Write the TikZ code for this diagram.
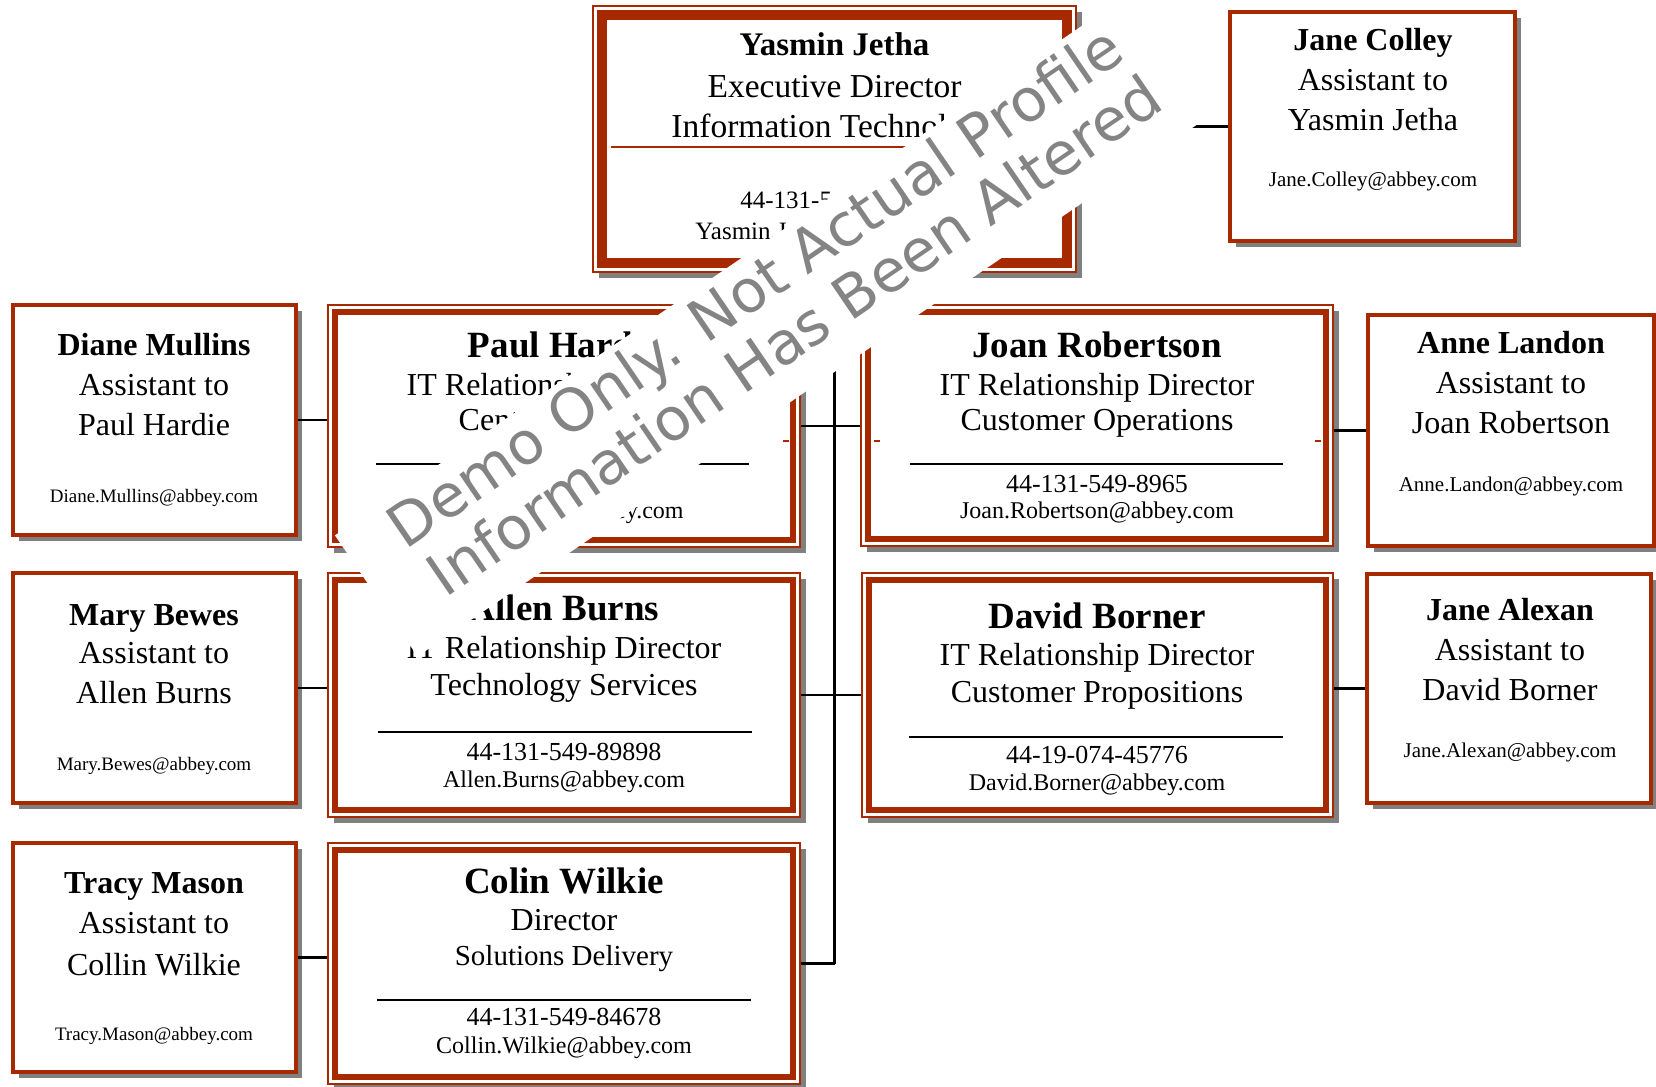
\documentclass[tikz,border=0pt]{standalone}
\usepackage{fontspec}
\setmainfont{Liberation Serif}
\newfontfamily\wmfont{DejaVu Sans}
\usetikzlibrary{fit,calc}
\definecolor{boxred}{RGB}{166,41,0}
\definecolor{shadowgrey}{RGB}{128,128,128}
\definecolor{wmgrey}{RGB}{132,132,132}
\tikzset{
  outerframe/.style={draw=boxred, line width=0.75pt, fill=white, inner sep=0pt},
  asframe/.style={draw=boxred, line width=1.6pt, fill=white, inner sep=0pt},
  txt/.style={anchor=base, inner sep=0pt, text=black},
  dname/.style={txt, font=\fontsize{18.5}{20}\selectfont\bfseries},
  dtitle/.style={txt, font=\fontsize{16}{18}\selectfont},
  dtitlesm/.style={txt, font=\fontsize{14.5}{16}\selectfont},
  dphone/.style={txt, font=\fontsize{13}{15}\selectfont},
  demail/.style={txt, font=\fontsize{12}{14}\selectfont},
  yname/.style={txt, font=\fontsize{16.5}{18}\selectfont\bfseries},
  ytitle/.style={txt, font=\fontsize{16.75}{18}\selectfont},
  yphone/.style={txt, font=\fontsize{12.5}{14}\selectfont},
  aname/.style={txt, font=\fontsize{16}{18}\selectfont\bfseries},
  atitle/.style={txt, font=\fontsize{16}{18}\selectfont},
  aemailL/.style={txt, font=\fontsize{9.5}{11}\selectfont},
  aemailR/.style={txt, font=\fontsize{10.5}{12}\selectfont},
  conn/.style={draw=black, line width=1.15pt},
  sepline/.style={draw=black, line width=0.7pt},
  wm/.style={anchor=base, inner sep=0pt, text=wmgrey, font=\wmfont\fontsize{29.5}{30}\selectfont},
}
\newcommand\dirbox[7]{%
  \fill[shadowgrey] (#2+6,#3+6) rectangle (#4+6,#5+6);
  \node[outerframe, fit={(#2,#3)(#4,#5)}] (#1) {};
  \draw[boxred, line width=#7] (#2+#6,#3+#6) rectangle (#4-#6,#5-#6);
}
\newcommand\asbox[5]{%
  \fill[shadowgrey] (#2+6,#3+6) rectangle (#4+6,#5+6);
  \node[asframe, fit={(#2,#3)(#4,#5)}] (#1) {};
}
\begin{document}
\begin{tikzpicture}[x=0.5pt,y=-0.5pt]
\useasboundingbox (0,0) rectangle (1656,1087);
\fill[white] (0,0) rectangle (1656,1087);

% boxes
\dirbox{yasmin}{593}{6}{1076}{272}{9}{5pt}
\asbox{janec}{1230}{12}{1515}{241}
\asbox{diane}{13}{305}{296}{535}
\dirbox{paul}{328}{305}{800}{547}{7}{2.8pt}
\dirbox{joan}{861}{305}{1333}{546}{7}{2.8pt}
\asbox{anne}{1368}{315}{1654}{546}
\asbox{mary}{13}{573}{296}{803}
\dirbox{allen}{328}{573}{800}{817}{7}{2.8pt}
\dirbox{david}{862}{573}{1333}{817}{7}{2.8pt}
\asbox{janea}{1367}{574}{1651}{803}
\asbox{tracy}{13}{843}{296}{1072}
\dirbox{colin}{328}{843}{800}{1084}{7}{2.8pt}

% connectors
\draw[conn] (yasmin.east |- janec.west) -- (janec.west);
\draw[conn] (yasmin.south) -- (yasmin.south |- colin.east);
\draw[conn] (paul.east) -- (paul.east -| joan.west);
\draw[conn] (allen.east) -- (allen.east -| david.west);
\draw[conn] (colin.east) -- (colin.east -| yasmin.south);
\draw[conn] (diane.east) -- (diane.east -| paul.west);
\draw[conn] (mary.east) -- (mary.east -| allen.west);
\draw[conn] (tracy.east) -- (tracy.east -| colin.west);
\draw[conn] (joan.east |- anne.west) -- (anne.west);
\draw[conn] (david.east |- janea.west) -- (janea.west);

% Yasmin
\node[yname] (yn) at (834.5,55) {Yasmin Jetha};
\node[ytitle] (yt1) at (834.5,97) {Executive Director};
\node[ytitle] (yt2) at (834.5,137) {Information Technology};
\draw[boxred, line width=0.75pt] (611,147) -- (1058,147);
\node[yphone, anchor=base west] (yp) at (740,208) {44-131-549-};
\node[yphone, anchor=base west] (ye) at (695,239) {Yasmin.Jetha@abbey.com};

% Jane Colley
\node[aname] (jcn) at (1373,50) {Jane Colley};
\node[atitle] (jct1) at (1373,90) {Assistant to};
\node[atitle] (jct2) at (1373,130) {Yasmin Jetha};
\node[aemailR] (jce) at (1373,186) {Jane.Colley@abbey.com};

% Diane
\node[aname] (dmn) at (154,355) {Diane Mullins};
\node[atitle] (dmt1) at (154,395) {Assistant to};
\node[atitle] (dmt2) at (154,435) {Paul Hardie};
\node[aemailL] (dme) at (154,502) {Diane.Mullins@abbey.com};

% Mary
\node[aname] (mbn) at (154,625) {Mary Bewes};
\node[atitle] (mbt1) at (154,663) {Assistant to};
\node[atitle] (mbt2) at (154,703) {Allen Burns};
\node[aemailL] (mbe) at (154,770) {Mary.Bewes@abbey.com};

% Tracy
\node[aname] (tmn) at (154,893) {Tracy Mason};
\node[atitle] (tmt1) at (154,933) {Assistant to};
\node[atitle] (tmt2) at (154,975) {Collin Wilkie};
\node[aemailL] (tme) at (154,1040) {Tracy.Mason@abbey.com};

% Anne
\node[aname] (aln) at (1511,353) {Anne Landon};
\node[atitle] (alt1) at (1511,393) {Assistant to};
\node[atitle] (alt2) at (1511,433) {Joan Robertson};
\node[aemailR] (ale) at (1511,491) {Anne.Landon@abbey.com};

% Jane Alexan
\node[aname] (jan) at (1510,620) {Jane Alexan};
\node[atitle] (jat1) at (1510,660) {Assistant to};
\node[atitle] (jat2) at (1510,700) {David Borner};
\node[aemailR] (jae) at (1510,757) {Jane.Alexan@abbey.com};

% Paul
\node[dname] (phn) at (564,357) {Paul Hardie};
\node[dtitle] (pht1) at (564,395) {IT Relationship Director};
\node[dtitle] (pht2) at (564,430) {Central Services};
\draw[sepline] (376,464) -- (749,464);
\node[demail] (phe) at (564,518) {Paul.Hardie@abbey.com};
\draw[boxred, line width=0.6pt] (783,441) -- (789,441);

% Joan
\node[dname] (jrn) at (1097,357) {Joan Robertson};
\node[dtitle] (jrt1) at (1097,395) {IT Relationship Director};
\node[dtitle] (jrt2) at (1097,430) {Customer Operations};
\draw[sepline] (910,464) -- (1283,464);
\node[dphone] (jrp) at (1097,492) {44-131-549-8965};
\node[demail] (jre) at (1097,518) {Joan.Robertson@abbey.com};
\draw[boxred, line width=0.6pt] (874,441) -- (880,441);
\draw[boxred, line width=0.6pt] (1315,441) -- (1321,441);

% Allen
\node[dname] (abn) at (564,620) {Allen Burns};
\node[dtitle] (abt1) at (564,658) {IT Relationship Director};
\node[dtitle] (abt2) at (564,695) {Technology Services};
\draw[sepline] (378,732) -- (752,732);
\node[dphone] (abp) at (564,760) {44-131-549-89898};
\node[demail] (abe) at (564,787) {Allen.Burns@abbey.com};

% David
\node[dname] (dbn) at (1097,628) {David Borner};
\node[dtitle] (dbt1) at (1097,665) {IT Relationship Director};
\node[dtitle] (dbt2) at (1097,702) {Customer Propositions};
\draw[sepline] (909,737) -- (1283,737);
\node[dphone] (dbp) at (1097,763) {44-19-074-45776};
\node[demail] (dbe) at (1097,790) {David.Borner@abbey.com};

% Colin
\node[dname] (cwn) at (564,893) {Colin Wilkie};
\node[dtitle] (cwt1) at (564,930) {Director};
\node[dtitlesm] (cwt2) at (564,965) {Solutions Delivery};
\draw[sepline] (377,1000) -- (751,1000);
\node[dphone] (cwp) at (564,1025) {44-131-549-84678};
\node[demail] (cwe) at (564,1053) {Collin.Wilkie@abbey.com};

% watermark band
\node[fill=white, inner sep=0pt, minimum width=482.5pt, minimum height=73.25pt, rotate=34.3] (band) at (774.8,324.0) {};
\node[wm, rotate=34.3] (wm1) at (766.6,304.0) {Demo Only. Not Actual Profile};
\node[wm, rotate=34.3] (wm2) at (806.1,353.0) {Information Has Been Altered};
\end{tikzpicture}
\end{document}
